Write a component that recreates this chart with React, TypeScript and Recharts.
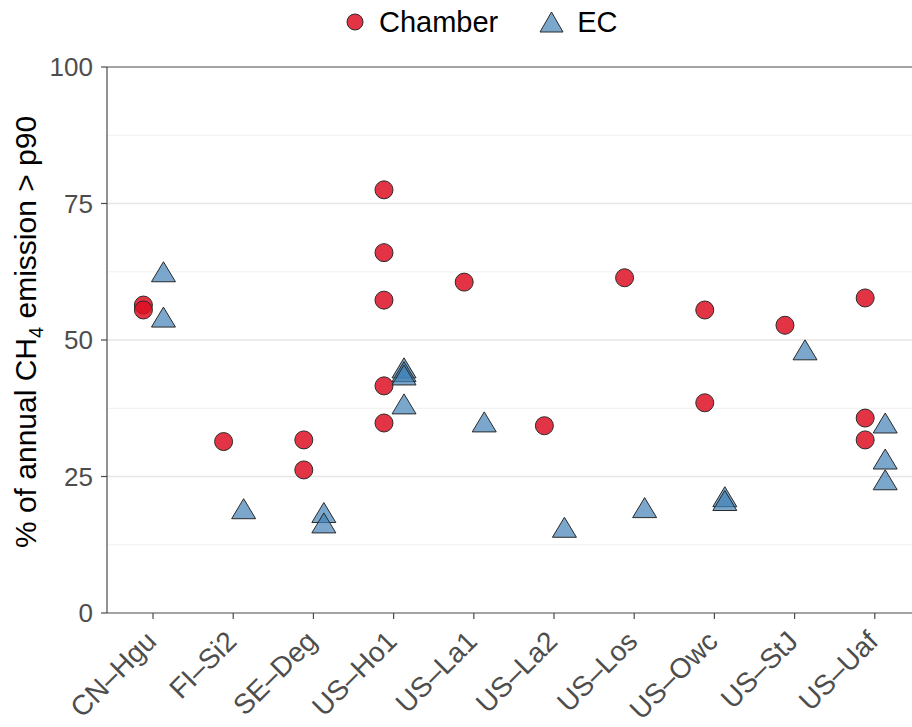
import React from "react";
import {
  ScatterChart,
  Scatter,
  XAxis,
  YAxis,
  ReferenceLine,
  Legend,
} from "recharts";

// ---- data ----
const sites = [
  "CN–Hgu",
  "FI–Si2",
  "SE–Deg",
  "US–Ho1",
  "US–La1",
  "US–La2",
  "US–Los",
  "US–Owc",
  "US–StJ",
  "US–Uaf",
];

// Chamber: site index (1-based) and % of annual CH4 emission > p90
const chamberSite = [1, 1, 2, 3, 3, 4, 4, 4, 4, 4, 5, 6, 7, 8, 8, 9, 10, 10, 10];
const chamberValue = [56.4, 55.5, 31.4, 31.7, 26.2, 77.5, 66.0, 57.3, 41.6, 34.8, 60.6, 34.3, 61.4, 55.5, 38.5, 52.7, 57.7, 35.7, 31.7];

// EC
const ecSite = [1, 1, 2, 3, 3, 4, 4, 4, 4, 5, 6, 7, 8, 8, 9, 10, 10, 10];
const ecValue = [62.5, 54.2, 19.1, 18.4, 16.5, 44.9, 44.2, 43.6, 38.3, 35.0, 15.7, 19.3, 21.3, 20.6, 48.2, 34.8, 28.2, 24.4];

const yTicks = [0, 25, 50, 75, 100];
const majorGrid = [25, 50, 75];
const minorGrid = [12.5, 37.5, 62.5, 87.5];

const CHAMBER_DODGE = -0.12;
const EC_DODGE = 0.13;

const chamberData = chamberSite.map((s, i) => ({ x: s + CHAMBER_DODGE, y: chamberValue[i] }));
const ecData = ecSite.map((s, i) => ({ x: s + EC_DODGE, y: ecValue[i] }));

const RED = "#DD1023";
const BLUE = "#4281B5";
const STROKE = "#2a2a2a";
const AXIS = "#4a4a4a";
const TICK_TEXT = "#4d4d4d";
const FONT = "'Liberation Sans', Arial, Helvetica, sans-serif";

const CircleShape = (props: any) => {
  const { cx, cy } = props;
  if (cx == null || cy == null) return null;
  return (
    <circle cx={cx} cy={cy} r={9} fill={RED} fillOpacity={0.85} stroke={STROKE} strokeWidth={1} />
  );
};

const TriangleShape = (props: any) => {
  const { cx, cy } = props;
  if (cx == null || cy == null) return null;
  const hw = 12;
  const hh = 10;
  const pts = `${cx},${cy - hh} ${cx + hw},${cy + hh} ${cx - hw},${cy + hh}`;
  return (
    <polygon points={pts} fill={BLUE} fillOpacity={0.7} stroke={STROKE} strokeWidth={1} strokeLinejoin="miter" />
  );
};

const XTick = (props: any) => {
  const { x, y, payload } = props;
  const label = sites[Math.round(payload.value) - 1] ?? "";
  return (
    <g transform={`translate(${x + 5},${y + 22})`}>
      <text
        x={0}
        y={0}
        textAnchor="end"
        transform="rotate(-45)"
        fill={TICK_TEXT}
        fontSize={28}
        fontFamily={FONT}
      >
        {label}
      </text>
    </g>
  );
};

const YTitle = (props: any) => {
  const vb = props.viewBox || { x: 0, y: 67, width: 107, height: 546 };
  const cx = 36;
  const cy = vb.y + vb.height / 2 - 8;
  return (
    <text
      x={cx}
      y={cy}
      transform={`rotate(-90, ${cx}, ${cy})`}
      textAnchor="middle"
      fill="#000"
      fontSize={30}
      fontFamily={FONT}
    >
      <tspan>% of annual CH</tspan>
      <tspan dy={7} fontSize={20}>4</tspan>
      <tspan dy={-7}> emission &gt; p90</tspan>
    </text>
  );
};

const LegendContent = () => (
  <div
    style={{
      height: 40,
      display: "flex",
      alignItems: "center",
      paddingLeft: 346,
      fontFamily: FONT,
      fontSize: 29,
      color: "#000",
    }}
  >
    <svg width={18} height={18} style={{ display: "block" }}>
      <circle cx={9} cy={9} r={8} fill={RED} fillOpacity={0.85} stroke={STROKE} strokeWidth={1} />
    </svg>
    <span style={{ marginLeft: 15, lineHeight: "40px" }}>Chamber</span>
    <svg width={25} height={22} style={{ display: "block", marginLeft: 41 }}>
      <polygon points="12.5,1 24,21 1,21" fill={BLUE} fillOpacity={0.7} stroke={STROKE} strokeWidth={1} />
    </svg>
    <span style={{ marginLeft: 13, lineHeight: "40px" }}>EC</span>
  </div>
);

export default function App() {
  return (
    <div style={{ position: "absolute", left: 0, top: 0, width: 912, height: 727, background: "#fff" }}>
      <ScatterChart
        width={912}
        height={727}
        margin={{ top: 27, right: 0, bottom: 0, left: 0 }}
      >
        <Legend
          verticalAlign="top"
          align="left"
          content={<LegendContent />}
          wrapperStyle={{ top: 2, left: 0, width: 912, height: 40 }}
        />
        {minorGrid.map((v) => (
          <ReferenceLine key={`mi${v}`} y={v} stroke="#f0f0f0" strokeWidth={1} />
        ))}
        {majorGrid.map((v) => (
          <ReferenceLine key={`ma${v}`} y={v} stroke="#e6e6e6" strokeWidth={1.6} />
        ))}
        <ReferenceLine y={100} stroke={AXIS} strokeWidth={1.2} />
        <XAxis
          type="number"
          dataKey="x"
          domain={[0.426, 10.464]}
          ticks={[1, 2, 3, 4, 5, 6, 7, 8, 9, 10]}
          allowDataOverflow
          height={114}
          axisLine={{ stroke: AXIS, strokeWidth: 1.2 }}
          tickLine={{ stroke: AXIS, strokeWidth: 1.2 }}
          tickSize={6}
          tickMargin={2}
          tick={<XTick />}
          interval={0}
        />
        <YAxis
          type="number"
          dataKey="y"
          domain={[0, 100]}
          ticks={yTicks}
          allowDataOverflow
          width={107}
          axisLine={{ stroke: AXIS, strokeWidth: 1.2 }}
          tickLine={{ stroke: AXIS, strokeWidth: 1.2 }}
          tickSize={6}
          tickMargin={8}
          tick={{ fill: TICK_TEXT, fontSize: 26, fontFamily: FONT }}
          label={<YTitle />}
        />
        <Scatter
          name="Chamber"
          data={chamberData}
          shape={<CircleShape />}
          isAnimationActive={false}
        />
        <Scatter
          name="EC"
          data={ecData}
          shape={<TriangleShape />}
          isAnimationActive={false}
        />
      </ScatterChart>
    </div>
  );
}
